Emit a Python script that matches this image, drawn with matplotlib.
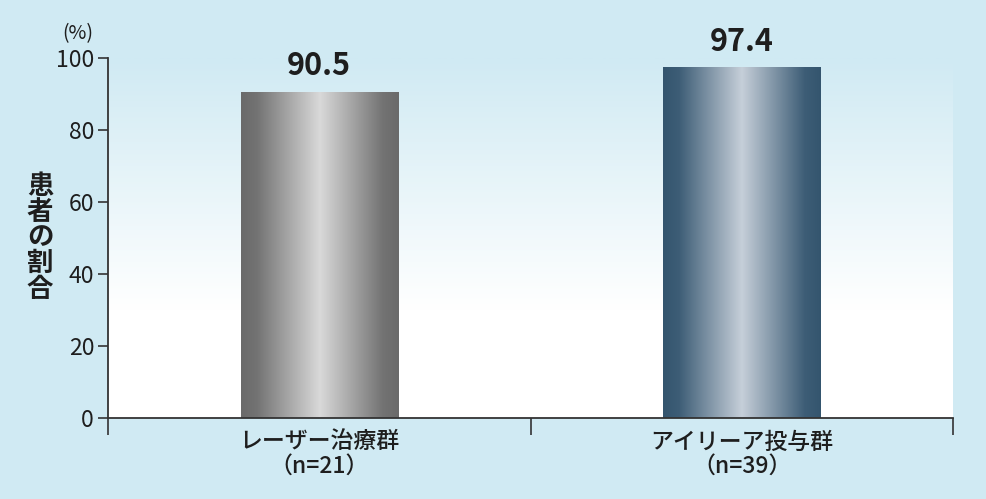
import numpy as np
import matplotlib
matplotlib.use("Agg")
import matplotlib.pyplot as plt
from matplotlib.colors import LinearSegmentedColormap, to_rgb

plt.rcParams['font.family'] = ['Noto Sans CJK JP', 'DejaVu Sans']

categories = ["レーザー治療群\n（n=21）", "アイリーア投与群\n（n=39）"]
values = [90.5, 97.4]
value_labels = ["90.5", "97.4"]
yticks = [0, 20, 40, 60, 80, 100]
ylabel = "患者の割合"

bg = "#d0eaf3"
bar_cmaps = [
    ["#6a6a6a", "#737373", "#d9d9d9", "#737373", "#6a6a6a"],
    ["#34556e", "#3d5d76", "#c6cfd9", "#3d5d76", "#34556e"],
]
text_color = "#1e1e1e"
axis_color = "#333333"

fig = plt.figure(figsize=(9.86, 4.99), dpi=100, facecolor=bg)
ax = fig.add_axes([108/986, 1-418/499, (953-108)/986, (418-58)/499])
ax.set_facecolor("white")
ax.set_xlim(0, 2)
ax.set_ylim(0, 100)

# plot area vertical gradient: bg at top -> white at bottom
n = 256
t = np.linspace(0, 1, n)  # 0 bottom, 1 top
bgc = np.array(to_rgb(bg))
white = np.ones(3)
frac = np.clip((t - 0.30) / 0.70, 0, 1)
grad = white[None, :] * (1 - frac[:, None]) + bgc[None, :] * frac[:, None]
ax.imshow(grad[:, None, :], extent=[0, 2, 0, 100], origin="lower",
          aspect="auto", zorder=0, interpolation="bilinear")

# bars with horizontal metallic gradient
x = np.arange(len(values)) + 0.5
bars = ax.bar(x, values, width=0.372, color="none", edgecolor="none", zorder=2)
pos = [0, 0.1, 0.5, 0.9, 1]
for b, cols in zip(bars, bar_cmaps):
    cmap = LinearSegmentedColormap.from_list("m", list(zip(pos, cols)))
    x0, y0 = b.get_x(), b.get_y()
    w, h = b.get_width(), b.get_height()
    im = ax.imshow(np.linspace(0, 1, 256)[None, :], cmap=cmap,
                   extent=[x0, x0 + w, y0, y0 + h], aspect="auto",
                   zorder=2, interpolation="bilinear")
    im.set_clip_path(b)

for xi, v, lab in zip(x, values, value_labels):
    ax.annotate(lab, (xi, v), xytext=(0, 7), textcoords="offset points",
                ha="center", va="bottom", fontsize=22, fontweight="bold",
                color=text_color)

ax.set_xlim(0, 2)
ax.set_ylim(0, 100)

for s in ["top", "right"]:
    ax.spines[s].set_visible(False)
for s in ["left", "bottom"]:
    ax.spines[s].set_color(axis_color)
    ax.spines[s].set_linewidth(1.3)
    ax.spines[s].set_zorder(5)

ax.set_yticks(yticks)
ax.set_yticklabels([str(v) for v in yticks], fontsize=16.5, color=text_color)
ax.tick_params(axis="y", direction="out", length=7, width=1.2, color=axis_color, pad=3)

ax.set_xticks([0, 1, 2])
ax.set_xticklabels([])
ax.tick_params(axis="x", which="major", direction="out", length=12, width=1.2, color=axis_color)
ax.set_xticks(x, minor=True)
ax.set_xticklabels(categories, minor=True, fontsize=16.5, color=text_color,
                   linespacing=1.05, fontweight="medium")
ax.tick_params(axis="x", which="minor", length=0, pad=9)

fig.text(78/986, 1-34/499, "(%)", ha="center", va="center", fontsize=14, color=text_color)
fig.text(40/986, 1-238/499, "\n".join(ylabel), ha="center", va="center",
         fontsize=19, fontweight="bold", color=text_color, linespacing=0.93)

fig.savefig("out.png", dpi=100, facecolor=bg)
